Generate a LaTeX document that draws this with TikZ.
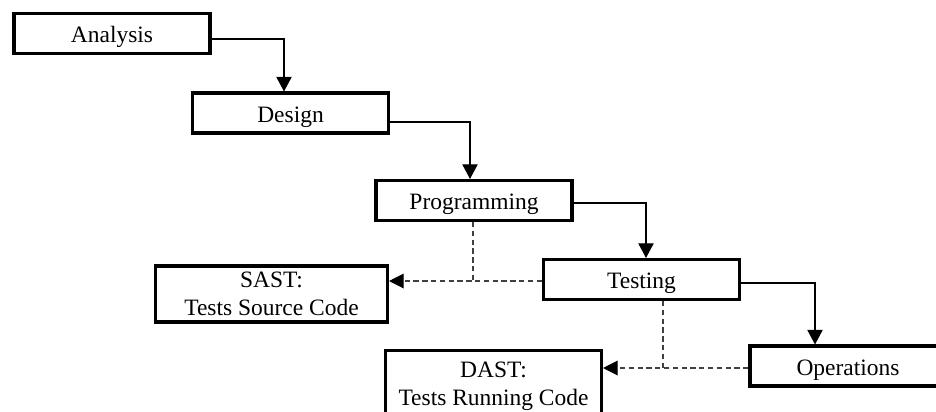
\documentclass[tikz,border=0pt]{standalone}
\usepackage{fontspec}
\setmainfont{Liberation Serif}
\usetikzlibrary{arrows.meta,calc}
\begin{document}
\begin{tikzpicture}[x=0.75pt,y=-0.75pt,
  box/.style={draw, line width=2.3pt, minimum width=147pt, minimum height=30pt,
    inner sep=0pt, align=center, font=\fontsize{17.6}{21}\selectfont},
  onebox/.style={box, text height=14.2pt, text depth=0pt},
  conn/.style={line width=0.95pt, -{Triangle[width=11.5pt,length=11pt]}},
  dline/.style={line width=0.95pt, draw=black!75, dash pattern=on 4pt off 2.6pt},
  dconn/.style={dline, -{Triangle[width=11pt,length=11pt,color=black]}}]
\useasboundingbox (0,0) rectangle (936,411);
\clip (0,0) rectangle (936,411);

\node[onebox] (analysis) at (112,33.5) {Analysis};
\node[onebox] (design) at (290.5,113) {Design};
\node[onebox] (programming) at (474,200.5) {Programming};
\node[onebox] (testing) at (641.5,279.5) {Testing};
\node[onebox] (operations) at (848,366) {Operations};
\node[box, minimum width=174pt, minimum height=42pt] (sast) at (271.5,294) {SAST:\\Tests Source Code};
\node[box, minimum width=162pt, minimum height=53pt] (dast) at (493.5,386) {DAST:\\Tests Running Code};

\draw[conn] ($(analysis.east)+(0,5.5)$) -| ($(design.north)+(-6.5,0)$);
\draw[conn] ($(design.east)+(0,9)$) -| ($(programming.north)+(-4,0)$);
\draw[conn] ($(programming.east)+(0,2.5)$) -| ($(testing.north)+(4.5,0)$);
\draw[conn] ($(testing.east)+(0,3.5)$) -| ($(operations.north)+(-33,0)$);

\coordinate (t1) at ($(testing.west)+(0,1.5)$);
\draw[dconn] (t1) -- (t1 -| sast.east);
\coordinate (p1) at ($(programming.south)+(-1,0)$);
\draw[dline] (p1) -- (p1 |- t1);

\coordinate (o1) at ($(operations.west)+(0,2)$);
\draw[dconn] (o1) -- (o1 -| dast.east);
\coordinate (t2) at ($(testing.south)+(21.5,0)$);
\draw[dline] (t2) -- (t2 |- o1);
\end{tikzpicture}
\end{document}
